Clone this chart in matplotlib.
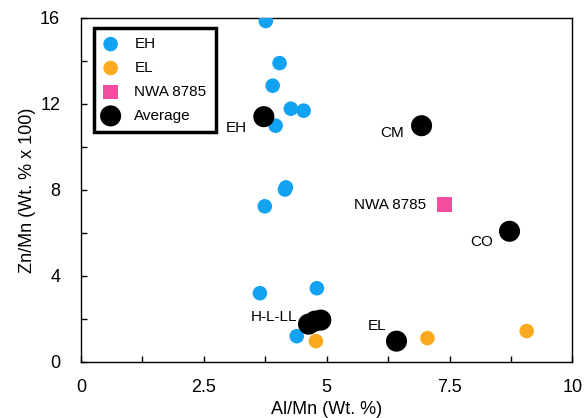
import matplotlib
matplotlib.use("Agg")
import matplotlib.pyplot as plt

plt.rcParams['font.family'] = ['Liberation Sans', 'DejaVu Sans']

eh_x = [3.76, 4.04, 3.90, 4.27, 4.53, 3.96, 4.17, 4.15, 3.74, 3.64, 4.80, 4.39]
eh_y = [15.86, 13.9, 12.85, 11.78, 11.69, 10.99, 8.12, 8.02, 7.24, 3.2, 3.43, 1.2]
el_x = [4.78, 7.05, 9.07]
el_y = [0.97, 1.11, 1.44]
nwa_x = [7.40]
nwa_y = [7.33]
avg_names = ["EH", "CM", "CO", "EL", "H-L-LL", "H-L-LL", "H-L-LL"]
avg_x = [3.72, 6.93, 8.72, 6.42, 4.63, 4.76, 4.88]
avg_y = [11.41, 10.99, 6.08, 0.97, 1.76, 1.90, 1.95]
labels = ["EH", "CM", "NWA 8785", "CO", "EL", "H-L-LL"]
label_x = [3.17, 6.34, 6.28, 8.15, 6.02, 3.92]
label_y = [10.90, 10.67, 7.28, 5.57, 1.67, 2.09]

fig = plt.figure(figsize=(5.85, 4.18), dpi=100)
ax = fig.add_axes([0.1385, 0.134, 0.840, 0.823])

blue = '#12A2F2'
orange = '#FBAA1F'
pink = '#F54D9E'

ax.scatter(eh_x, eh_y, s=110, color=blue, label='EH', zorder=3, edgecolors='none')
ax.scatter(el_x, el_y, s=110, color=orange, label='EL', zorder=3, edgecolors='none')
ax.scatter(nwa_x, nwa_y, s=115, color=pink, marker='s', label='NWA 8785', zorder=3, edgecolors='none')
ax.scatter(avg_x, avg_y, s=230, color='black', label='Average', zorder=4, edgecolors='none')

for t, x, y in zip(labels, label_x, label_y):
    ax.text(x, y, t, fontsize=11, ha='center', va='center', zorder=5)

ax.set_xlim(0, 10)
ax.set_ylim(0, 16)
ax.set_xticks([0, 1.25, 2.5, 3.75, 5, 6.25, 7.5, 8.75, 10])
ax.set_xticklabels(['0', '', '2.5', '', '5', '', '7.5', '', '10'])
ax.set_yticks([0, 2, 4, 6, 8, 10, 12, 14, 16])
ax.set_yticklabels(['0', '', '4', '', '8', '', '12', '', '16'])
ax.tick_params(direction='in', length=4, width=1, labelsize=13)
ax.tick_params(axis='x', pad=12)
ax.tick_params(axis='y', pad=15)
for s in ax.spines.values():
    s.set_linewidth(1.0)

ax.set_xlabel('Al/Mn (Wt. %)', fontsize=13, labelpad=4)
ax.set_ylabel('Zn/Mn (Wt. % x 100)', fontsize=13, labelpad=3)

leg = ax.legend(loc='upper left', bbox_to_anchor=(0.026, 0.971), fontsize=11,
                frameon=True, fancybox=False, edgecolor='black', borderpad=0.6,
                labelspacing=0.65, handlelength=1.0, handletextpad=1.05,
                borderaxespad=0, framealpha=1)
leg.get_frame().set_linewidth(2.5)

fig.savefig('out.png', dpi=100)
